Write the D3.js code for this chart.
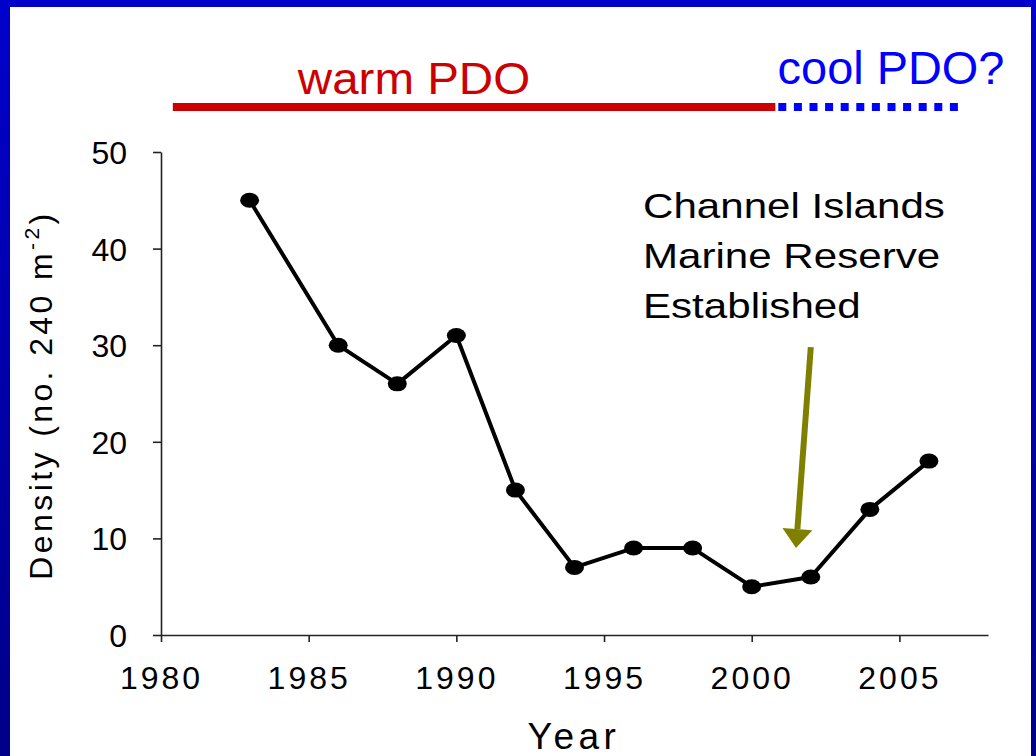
<!DOCTYPE html>
<html>
<head>
<meta charset="utf-8">
<script src="https://cdn.jsdelivr.net/npm/d3@7"></script>
<style>
    html, body { margin: 0; padding: 0; background: #fff; }
    svg { display: block; }
    text { font-family: "Liberation Sans", Arial, sans-serif; }
</style>
</head>
<body>
<div id="chart"></div>
<script>
// density survey values
const years = [1983, 1986, 1988, 1990, 1992, 1994, 1996, 1998, 2000, 2002, 2004, 2006];
const density = [45, 30, 26, 31, 15, 7, 9, 9, 5, 6, 13, 18];
const xTicks = [1980, 1985, 1990, 1995, 2000, 2005];
const yTicks = [0, 10, 20, 30, 40, 50];

// PDO regimes drawn as bars above the plot
const pdoLabels = ["warm PDO", "cool PDO?"];
const pdoStart = [1980.4, 2000.9];
const pdoEnd = [2000.8, 2007.1];

// reserve annotation: arrow from tail to tip, in data units
const noteLines = ["Channel Islands", "Marine Reserve", "Established"];
const arrowTail = [2002.0, 29.8];
const arrowTip = [2001.5, 9.0];

const W = 1036, H = 756;

const svg = d3.select("#chart").append("svg")
    .attr("width", W)
    .attr("height", H);

// slide background: blue frame with white panel
const defs = svg.append("defs");
const grad = defs.append("linearGradient")
    .attr("id", "frame")
    .attr("x1", 0).attr("y1", 0).attr("x2", 0).attr("y2", 1);
grad.append("stop").attr("offset", "0%").attr("stop-color", "#0000cc");
grad.append("stop").attr("offset", "100%").attr("stop-color", "#000088");

svg.append("rect")
    .attr("width", W).attr("height", H)
    .attr("fill", "url(#frame)");
svg.append("rect")
    .attr("x", 10).attr("y", 7)
    .attr("width", 1021).attr("height", H - 7)
    .attr("fill", "#fff");

const x = d3.scaleLinear().domain([1980, 2008]).range([161, 988]);
const y = d3.scaleLinear().domain([0, 50]).range([635, 152]);

// axes
const yAxis = svg.append("g")
    .attr("transform", `translate(${x(1980)},0)`)
    .call(d3.axisLeft(y).tickValues(yTicks).tickSize(8).tickSizeOuter(0).tickPadding(26));
const xAxis = svg.append("g")
    .attr("transform", `translate(0,${y(0)})`)
    .call(d3.axisBottom(x).tickValues(xTicks).tickSize(7).tickSizeOuter(0).tickPadding(24).tickFormat(d3.format("d")));

[xAxis, yAxis].forEach(a => {
    a.selectAll("path, line").attr("stroke", "#222").attr("stroke-width", 1.6);
    a.selectAll("text")
        .attr("fill", "#000")
        .style("font-size", "32px")
        .style("font-family", "'Liberation Sans', Arial, sans-serif");
});
xAxis.selectAll("text").style("letter-spacing", "3px");
yAxis.selectAll("text").attr("dy", "0.36em");

// axis titles
svg.append("text")
    .attr("x", 574).attr("y", 749)
    .attr("text-anchor", "middle")
    .style("font-size", "37px")
    .style("letter-spacing", "4.5px")
    .text("Year");

const yTitle = svg.append("text")
    .attr("transform", "translate(52,395) rotate(-90)")
    .attr("text-anchor", "middle")
    .style("font-size", "32px")
    .style("letter-spacing", "3.4px");
yTitle.append("tspan").text("Density (no. 240 m");
yTitle.append("tspan").attr("dy", -13).style("font-size", "21px").text("-2");
yTitle.append("tspan").attr("dy", 13).text(")");

// series line and markers
const line = d3.line()
    .x((d, i) => x(years[i]))
    .y(d => y(d));

svg.append("path")
    .datum(density)
    .attr("d", line)
    .attr("fill", "none")
    .attr("stroke", "#000")
    .attr("stroke-width", 4)
    .attr("stroke-linejoin", "round");

svg.selectAll(".dot")
    .data(density)
    .enter()
    .append("ellipse")
    .attr("class", "dot")
    .attr("cx", (d, i) => x(years[i]))
    .attr("cy", d => y(d))
    .attr("rx", 9.5)
    .attr("ry", 7.5)
    .attr("fill", "#000");

// PDO regime bars
const barY = 107;
svg.append("line")
    .attr("x1", x(pdoStart[0])).attr("x2", x(pdoEnd[0]))
    .attr("y1", barY).attr("y2", barY)
    .attr("stroke", "#cc0000")
    .attr("stroke-width", 8);
svg.append("line")
    .attr("x1", x(pdoStart[1])).attr("x2", x(pdoEnd[1]))
    .attr("y1", barY).attr("y2", barY)
    .attr("stroke", "#0000ff")
    .attr("stroke-width", 8)
    .attr("stroke-dasharray", "8,7.6");

// the slide text is a little stretched sideways, so scale it in x
svg.append("text")
    .attr("transform", "translate(414,94) scale(1.08,1)")
    .attr("text-anchor", "middle")
    .attr("fill", "#cc0000")
    .style("font-size", "44px")
    .text(pdoLabels[0]);
svg.append("text")
    .attr("transform", "translate(891,84) scale(1.02,1)")
    .attr("text-anchor", "middle")
    .attr("fill", "#0000ff")
    .style("font-size", "46px")
    .text(pdoLabels[1]);

// annotation text
svg.append("g")
    .attr("transform", "translate(643,0) scale(1.17,1)")
    .selectAll("text")
    .data(noteLines)
    .enter()
    .append("text")
    .attr("x", 0)
    .attr("y", (d, i) => 218 + i * 50)
    .style("font-size", "36px")
    .text(d => d);

// olive arrow
const tail = [x(arrowTail[0]), y(arrowTail[1])];
const tip = [x(arrowTip[0]), y(arrowTip[1])];
const ang = Math.atan2(tip[1] - tail[1], tip[0] - tail[0]);
const headLen = 19, headHalf = 15;
const base = [tip[0] - headLen * Math.cos(ang), tip[1] - headLen * Math.sin(ang)];
const px = -Math.sin(ang), py = Math.cos(ang);

svg.append("line")
    .attr("x1", tail[0]).attr("y1", tail[1])
    .attr("x2", base[0]).attr("y2", base[1])
    .attr("stroke", "#808000")
    .attr("stroke-width", 6);
svg.append("path")
    .attr("d", `M${tip[0]},${tip[1]}L${base[0] + px * headHalf},${base[1] + py * headHalf}L${base[0] - px * headHalf},${base[1] - py * headHalf}Z`)
    .attr("fill", "#808000");
</script>
</body>
</html>
